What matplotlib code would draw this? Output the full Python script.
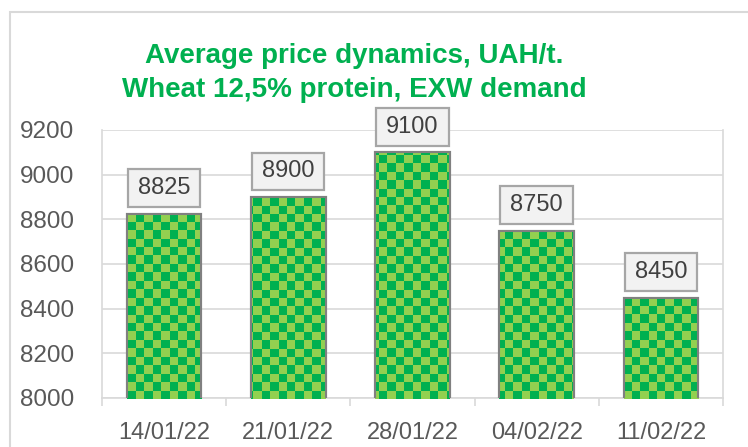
import numpy as np
import matplotlib
matplotlib.use("Agg")
import matplotlib.pyplot as plt
from matplotlib.patches import Rectangle
from matplotlib.colors import ListedColormap
from matplotlib.path import Path

categories = ["14/01/22", "21/01/22", "28/01/22", "04/02/22", "11/02/22"]
values = [8825, 8900, 9100, 8750, 8450]
title_lines = ["Average price dynamics, UAH/t.", "Wheat 12,5% protein, EXW demand"]
yticks = [8000, 8200, 8400, 8600, 8800, 9000, 9200]

plt.rcParams['font.family'] = ['Liberation Sans', 'DejaVu Sans']

W, H = 748, 447
fig = plt.figure(figsize=(W / 100, H / 100), dpi=100)
fig.patch.set_facecolor('white')

# outer chart border
fig.patches.append(Rectangle((10 / W, -0.1), 1.2, 1 - 12 / H + 0.1,
                             transform=fig.transFigure, fill=False,
                             edgecolor='#D9D9D9', lw=1.5, zorder=0))

ax_l, ax_r, ax_t, ax_b = 102, 723, 130, 398
ax = fig.add_axes([ax_l / W, 1 - ax_b / H, (ax_r - ax_l) / W, (ax_b - ax_t) / H])

x = np.arange(len(categories))
bars = ax.bar(x, values, width=0.6, bottom=0, color='#92D050',
              edgecolor='#808080', linewidth=1.5, zorder=3)

ax.set_ylim(8000, 9200)
ax.set_xlim(-0.5, len(categories) - 0.5)

# checkerboard fill clipped to each bar
cell = 8.4
nx = int(np.ceil((ax_r - ax_l) / cell))
ny = int(np.ceil((ax_b - ax_t) / cell))
board = (np.add.outer(np.arange(ny), np.arange(nx)) % 2).astype(float)
cmap = ListedColormap(['#00B050', '#92D050'])
for b in bars:
    im = ax.imshow(board, cmap=cmap, interpolation='nearest', aspect='auto',
                   extent=[0, nx * cell / (ax_r - ax_l), 1 - ny * cell / (ax_b - ax_t), 1],
                   transform=ax.transAxes, zorder=3.5, vmin=0, vmax=1)
    im.set_clip_path(b)
for b in bars:
    ax.add_patch(Rectangle(b.get_xy(), b.get_width(), b.get_height(), fill=False,
                           edgecolor='#808080', lw=1.5, zorder=4))

ax.set_yticks(yticks)
ax.set_yticklabels([str(v) for v in yticks])
ax.yaxis.grid(True, color='#D9D9D9', lw=1.2, zorder=0)
ax.set_axisbelow(True)
ax.tick_params(axis='y', length=0, pad=20, labelsize=17.5, labelcolor='#595959')

ax.set_xticks(x)
ax.set_xticklabels(categories)
ax.set_xticks(np.arange(-0.5, len(categories)), minor=True)
ax.tick_params(axis='x', which='major', length=0, pad=17, labelsize=17, labelcolor='#595959')
ax.tick_params(axis='x', which='minor', length=6, width=1.2, color='#D9D9D9', direction='out')

for s in ['left', 'right', 'bottom']:
    ax.spines[s].set_color('#D9D9D9')
    ax.spines[s].set_linewidth(1.2)
ax.spines['top'].set_visible(False)


def label_box(x0, y0, width, height, mutation_size):
    px = 0.42 * mutation_size
    py = 0.33 * mutation_size
    x0, y0 = x0 - px, y0 - py
    x1, y1 = x0 + width + 2 * px, y0 + height + 2 * py
    return Path([(x0, y0), (x1, y0), (x1, y1), (x0, y1), (x0, y0)], closed=True)


for xi, v in zip(x, values):
    ax.annotate(str(v), (xi, v), xytext=(0, 10.5), textcoords='offset points',
                ha='center', va='bottom', fontsize=17, color='#404040', zorder=6,
                bbox=dict(boxstyle=label_box, fc='#F2F2F2', ec='#A6A6A6', lw=1.6))

fig.text(354 / W, 1 - 63 / H, title_lines[0], ha='center', va='baseline',
         fontsize=20, fontweight='bold', color='#00B050')
fig.text(354 / W, 1 - 97 / H, title_lines[1], ha='center', va='baseline',
         fontsize=20, fontweight='bold', color='#00B050')

fig.savefig('out.png', dpi=100)
